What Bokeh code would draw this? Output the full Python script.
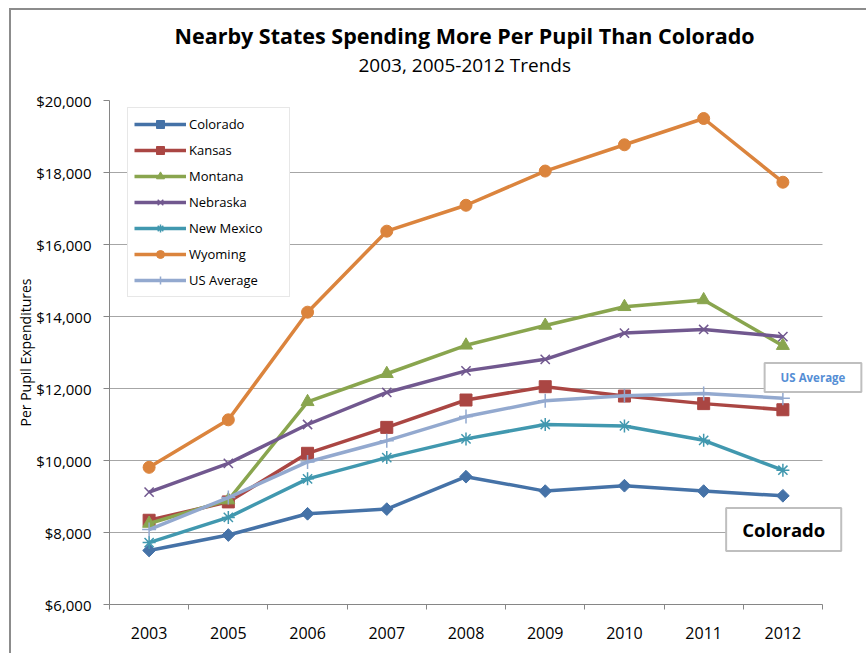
import math
from bokeh.plotting import figure
from bokeh.models import (Range1d, FixedTicker, NumeralTickFormatter, Legend,
                          LegendItem, Label, Title, BoxAnnotation)
from bokeh.embed import file_html
from bokeh.resources import INLINE

# ---- data ----
years = ["2003", "2005", "2006", "2007", "2008", "2009", "2010", "2011", "2012"]
colorado = [7500, 7930, 8520, 8650, 9550, 9150, 9300, 9150, 9020]
kansas = [8340, 8850, 10200, 10920, 11680, 12050, 11790, 11580, 11410]
montana = [8250, 8900, 11630, 12410, 13200, 13750, 14270, 14460, 13190]
nebraska = [9120, 9920, 11000, 11890, 12490, 12810, 13540, 13640, 13440]
new_mexico = [7720, 8420, 9490, 10080, 10600, 11000, 10960, 10560, 9730]
wyoming = [9810, 11130, 14120, 16370, 17090, 18040, 18770, 19500, 17730]
us_average = [8080, 8970, 9960, 10550, 11220, 11660, 11800, 11860, 11730]
y_ticks = [6000, 8000, 10000, 12000, 14000, 16000, 18000, 20000]

series = [
    ("Colorado", colorado, "#4572A7", "square", 9, math.pi / 4, 1),
    ("Kansas", kansas, "#AA4643", "square", 12, 0, 1),
    ("Montana", montana, "#89A54E", "triangle", 13, 0, 1),
    ("Nebraska", nebraska, "#71588F", "x", 13, 0, 1.5),
    ("New Mexico", new_mexico, "#4198AF", "asterisk", 13, 0, 1.5),
    ("Wyoming", wyoming, "#DB843D", "circle", 12, 0, 1),
    ("US Average", us_average, "#93A9CF", "cross", 14, 0, 1.5),
]

FONT = "Open Sans"
n = len(years)
xs = [i + 0.5 for i in range(n)]

W, H = 866, 653
LEFT, TOP, BOTTOM = 109, 100, 49
PLOT_W = 713                      # width that holds the categories
FRAME_W = W - LEFT                # frame runs to the right edge (for the callouts)

p = figure(width=W, height=H, output_backend="svg", toolbar_location=None,
           x_range=Range1d(0, n * FRAME_W / PLOT_W),
           y_range=Range1d(y_ticks[0], y_ticks[-1]),
           min_border_left=LEFT, min_border_right=0, min_border_top=TOP,
           min_border_bottom=BOTTOM)
p.outline_line_color = None
p.background_fill_color = "white"
p.border_fill_alpha = 0
p.styles = {"box-shadow": "inset 9px 8px 0 0 white, inset 11px 10px 0 0 #8c8c8c",
            "background-color": "white"}

# titles (stacked upward from the plot), centred over the category area
p.add_layout(Title(text=" ", text_font_size="1px", standoff=19), "above")
p.add_layout(Title(text="2003, 2005-2012 Trends", align="left", offset=249,
                   text_font=FONT, text_font_size="19px",
                   text_font_style="normal", text_color="#000000",
                   standoff=1), "above")
p.add_layout(Title(text="Nearby States Spending More Per Pupil Than Colorado",
                   align="left", offset=65, text_font=FONT,
                   text_font_size="21.5px", text_font_style="bold",
                   text_color="#000000", standoff=0), "above")

# axes
xa = p.xaxis[0]
xa.ticker = FixedTicker(ticks=xs, minor_ticks=list(range(n + 1)))
xa.major_label_overrides = {x: y for x, y in zip(xs, years)}
xa.bounds = (0, n)
xa.major_tick_line_color = None
xa.minor_tick_line_color = "#868686"
xa.minor_tick_in = 0
xa.minor_tick_out = 5
xa.axis_line_color = "#868686"
xa.major_label_text_font = FONT
xa.major_label_text_font_size = "16px"
xa.major_label_text_color = "#000000"
xa.major_label_standoff = 16

ya = p.yaxis[0]
ya.ticker = FixedTicker(ticks=y_ticks)
ya.formatter = NumeralTickFormatter(format="$0,0")
ya.major_tick_in = 0
ya.major_tick_out = 6
ya.major_tick_line_color = "#868686"
ya.minor_tick_line_color = None
ya.axis_line_color = "#868686"
ya.major_label_text_font = FONT
ya.major_label_text_font_size = "15px"
ya.major_label_text_color = "#000000"
ya.major_label_standoff = 12
ya.axis_label = "Per Pupil Expenditures"
ya.axis_label_text_font = FONT
ya.axis_label_text_font_size = "14px"
ya.axis_label_text_font_style = "normal"
ya.axis_label_text_color = "#000000"
ya.axis_label_standoff = -2

p.xgrid.visible = False
p.ygrid.grid_line_color = "#a6a6a6"
p.ygrid.grid_line_width = 1

# keep the gridlines inside the category area
p.add_layout(BoxAnnotation(left=n, fill_color="white", fill_alpha=1.0,
                           line_color=None, level="underlay"))

items = []
for name, vals, color, marker, size, angle, lw in series:
    ln = p.line(xs, vals, line_color=color, line_width=3.5)
    if marker in ("x", "asterisk", "cross"):
        sc = p.scatter(xs, vals, marker=marker, size=size, angle=angle,
                       line_color=color, line_width=lw, fill_color=None)
    else:
        sc = p.scatter(xs, vals, marker=marker, size=size, angle=angle,
                       line_color=color, fill_color=color, line_width=lw)
    items.append(LegendItem(label=name, renderers=[ln, sc]))

legend = Legend(items=items, location=(18, 307), orientation="vertical",
                padding=6, spacing=6, glyph_width=52, glyph_height=20,
                label_height=20, label_width=94, label_standoff=3,
                label_text_font=FONT, label_text_font_size="13px",
                label_text_color="#000000",
                border_line_color="#d0d0d0", border_line_width=1,
                background_fill_color="white", background_fill_alpha=1.0,
                margin=0)
p.add_layout(legend)

p.add_layout(Label(x=8.88, y=12305, text="US Average", text_align="center",
                   text_baseline="middle", text_font=FONT,
                   text_font_size="11.5px", text_font_style="bold",
                   text_color="#558ED5", background_fill_color="white",
                   border_line_color="#bfbfbf", border_line_width=2,
                   padding=dict(left=16, right=16, top=7, bottom=7)))
p.add_layout(Label(x=8.51, y=8083, text="Colorado", text_align="center",
                   text_baseline="middle", text_font=FONT,
                   text_font_size="18.5px", text_font_style="bold",
                   text_color="#000000", background_fill_color="white",
                   border_line_color="#bfbfbf", border_line_width=2,
                   padding=dict(left=16, right=16, top=9, bottom=9)))

open("out.html", "w").write(file_html(p, INLINE))
